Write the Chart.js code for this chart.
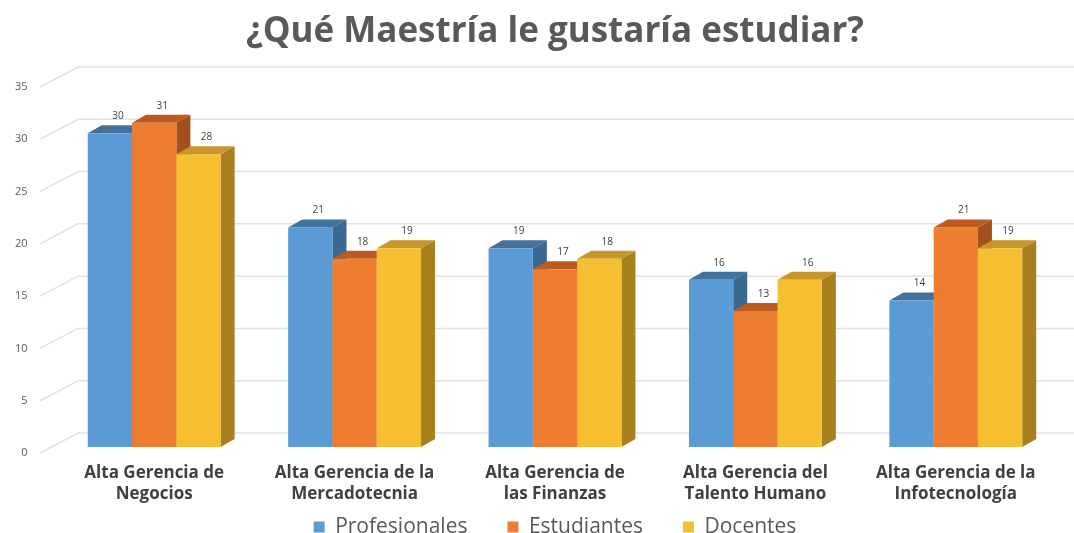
<!DOCTYPE html>
<html>
<head>
<meta charset="utf-8">
<script src="https://cdn.jsdelivr.net/npm/chart.js@4"></script>
<style>
  html, body { margin:0; padding:0; background:#fff; }
  #wrap { width:1074px; height:533px; }
</style>
</head>
<body>
<div id="wrap"><canvas id="chart"></canvas></div>
<script>
// data
const categories = [
  ['Alta Gerencia de', 'Negocios'],
  ['Alta Gerencia de la', 'Mercadotecnia'],
  ['Alta Gerencia de', 'las Finanzas'],
  ['Alta Gerencia del', 'Talento Humano'],
  ['Alta Gerencia de la', 'Infotecnología']
];
const profesionales = [30, 21, 19, 16, 14];
const estudiantes   = [31, 18, 17, 13, 21];
const docentes      = [28, 19, 18, 16, 19];
const yTicks = [0, 5, 10, 15, 20, 25, 30, 35];

// colours: front, top, side
const shades = [
  ['#5B9BD5', '#41719C', '#3A6890'],
  ['#ED7D31', '#BE5A1E', '#A3501B'],
  ['#F5BF30', '#C8962A', '#A88020']
];
const DX = 14, DY = 8;      // bar depth
const BACK = 14;            // back wall offset (y)

// back wall + 3d bars drawn left to right, then value labels
const bars3d = {
  id: 'bars3d',
  beforeDatasetsDraw(chart) {
    const {ctx, scales:{y}} = chart;
    ctx.save();
    ctx.strokeStyle = '#E3E3E3';
    ctx.lineWidth = 1.5;
    yTicks.forEach(v => {
      const py = y.getPixelForValue(v);
      ctx.beginPath();
      ctx.moveTo(40, py + 6);
      ctx.lineTo(78, py - BACK);
      ctx.lineTo(chart.width, py - BACK);
      ctx.stroke();
    });

    const metas = chart.data.datasets.map((ds, i) => chart.getDatasetMeta(i));
    chart.data.labels.forEach((lab, j) => {
      metas.forEach((meta, i) => {
        const bar = meta.data[j], s = shades[i];
        const l = bar.x - bar.width / 2, r = bar.x + bar.width / 2;
        const t = bar.y, b = bar.base;
        ctx.fillStyle = s[2];
        ctx.beginPath();
        ctx.moveTo(r, t); ctx.lineTo(r + DX, t - DY);
        ctx.lineTo(r + DX, b - DY); ctx.lineTo(r, b);
        ctx.closePath(); ctx.fill();
        ctx.fillStyle = s[1];
        ctx.beginPath();
        ctx.moveTo(l, t); ctx.lineTo(l + DX, t - DY);
        ctx.lineTo(r + DX, t - DY); ctx.lineTo(r, t);
        ctx.closePath(); ctx.fill();
        ctx.fillStyle = s[0];
        ctx.fillRect(l, t, r - l, b - t);
      });
    });

    ctx.font = '10px "Open Sans"';
    ctx.fillStyle = '#404040';
    ctx.textAlign = 'center';
    ctx.textBaseline = 'middle';
    chart.data.datasets.forEach((ds, i) => {
      metas[i].data.forEach((bar, j) => {
        ctx.fillText(ds.data[j], bar.x + 8, bar.y - 17);
      });
    });
    ctx.restore();
    return false;
  }
};

new Chart(document.getElementById('chart'), {
  type: 'bar',
  data: {
    labels: categories,
    datasets: [
      {label: 'Profesionales', data: profesionales, backgroundColor: shades[0][0]},
      {label: 'Estudiantes',   data: estudiantes,   backgroundColor: shades[1][0]},
      {label: 'Docentes',      data: docentes,      backgroundColor: shades[2][0]}
    ]
  },
  options: {
    responsive: true,
    maintainAspectRatio: false,
    animation: false,
    categoryPercentage: 0.663,
    barPercentage: 1,
    layout: { padding: { top: 0, right: 18, bottom: -14.5, left: 54 } },
    plugins: {
      title: {
        display: true,
        text: '¿Qué Maestría le gustaría estudiar?',
        color: '#595959',
        font: { family: 'Open Sans', size: 35, weight: 'bold', lineHeight: 1.2 },
        padding: { top: 11, bottom: 28 }
      },
      legend: {
        position: 'bottom',
        labels: {
          boxWidth: 11, boxHeight: 11,
          color: '#595959',
          font: { family: 'Open Sans', size: 21 },
          padding: 40
        }
      },
      tooltip: { enabled: false }
    },
    scales: {
      x: {
        grid: { display: false, drawTicks: false },
        border: { display: false },
        afterFit: s => { s.height = 29.5; },
        ticks: {
          color: '#404040',
          font: { family: 'Open Sans', size: 17, weight: 'bold', lineHeight: 1.27 },
          mirror: true,
          padding: -36.8,
          maxRotation: 0
        }
      },
      y: {
        min: 0, max: 35,
        grid: { display: false, drawTicks: false },
        border: { display: false },
        afterFit: s => { s.width = 0; },
        afterBuildTicks: s => { s.ticks = yTicks.map(v => ({value: v})); },
        ticks: {
          color: '#595959',
          font: { family: 'Open Sans', size: 11 },
          mirror: true,
          crossAlign: 'far',
          padding: -39,
          labelOffset: 6
        }
      }
    }
  },
  plugins: [bars3d]
});
</script>
</body>
</html>
